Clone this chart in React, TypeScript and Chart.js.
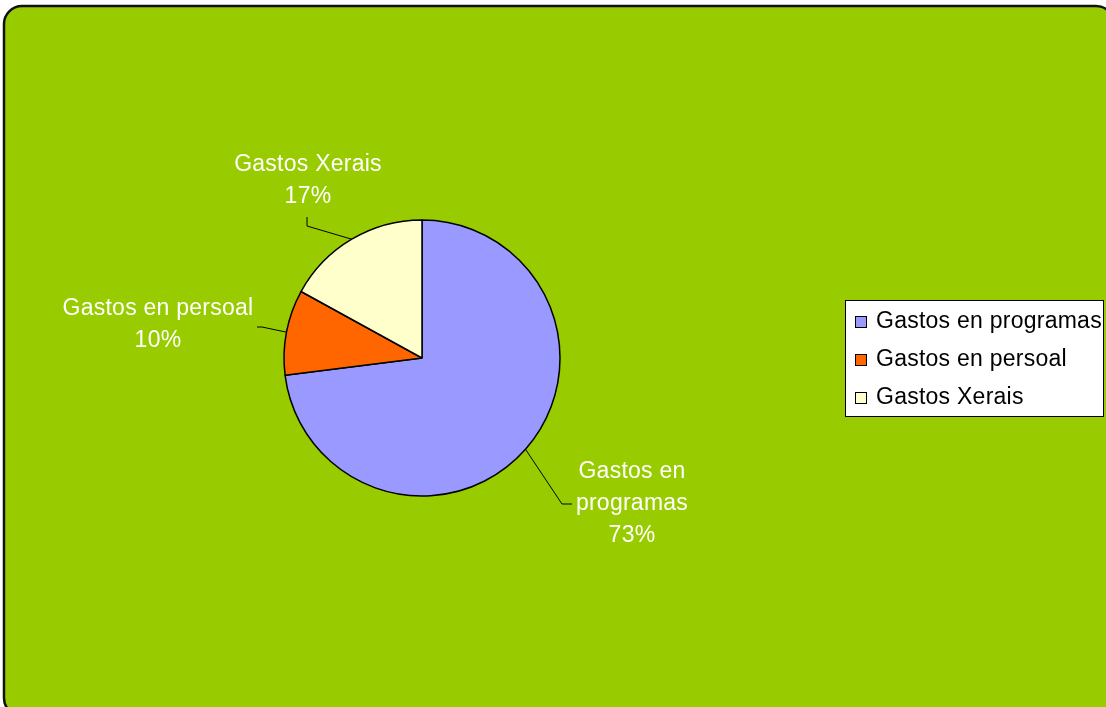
import { useEffect, useRef } from 'react';
import { Chart, registerables } from 'chart.js';

Chart.register(...registerables);

const categories = ['Gastos en programas', 'Gastos en persoal', 'Gastos Xerais'];
const labelLines = [['Gastos en', 'programas'], ['Gastos en persoal'], ['Gastos Xerais']];
const values = [73, 10, 17];
const colors = ['#9999FF', '#FF6600', '#FFFFCC'];

// label layout relative to pie center (pixels): elbow, end of leader, text block center
const labelLayout = [
  { elbow: [140, 146], end: [150, 146], text: [210, 146] },
  { elbow: [-160, -31], end: [-165, -31], text: [-264, -33] },
  { elbow: [-115, -132], end: [-115, -141], text: [-114, -177] },
];

const FONT = '23px "Liberation Sans", Arial, sans-serif';

const decorPlugin = {
  id: 'decor',
  beforeDraw(chart: any) {
    const ctx = chart.ctx as CanvasRenderingContext2D;
    ctx.save();
    ctx.fillStyle = '#ffffff';
    ctx.fillRect(0, 0, chart.width, chart.height);
    const x = 4, y = 6, w = 1110, h = 710, r = 18;
    ctx.beginPath();
    ctx.moveTo(x + r, y);
    ctx.lineTo(x + w - r, y);
    ctx.arcTo(x + w, y, x + w, y + r, r);
    ctx.lineTo(x + w, y + h - r);
    ctx.arcTo(x + w, y + h, x + w - r, y + h, r);
    ctx.lineTo(x + r, y + h);
    ctx.arcTo(x, y + h, x, y + h - r, r);
    ctx.lineTo(x, y + r);
    ctx.arcTo(x, y, x + r, y, r);
    ctx.closePath();
    ctx.fillStyle = '#99CC00';
    ctx.fill();
    ctx.lineWidth = 2.5;
    ctx.strokeStyle = '#111111';
    ctx.stroke();
    ctx.restore();
  },
  afterDraw(chart: any) {
    const ctx = chart.ctx as CanvasRenderingContext2D;
    const meta = chart.getDatasetMeta(0);
    const total = values.reduce((a, b) => a + b, 0);
    ctx.save();
    (ctx as any).letterSpacing = '0.25px';
    meta.data.forEach((arc: any, i: number) => {
      const p = arc.getProps(['x', 'y', 'startAngle', 'endAngle', 'outerRadius'], true);
      const mid = (p.startAngle + p.endAngle) / 2;
      const sx = p.x + Math.cos(mid) * p.outerRadius;
      const sy = p.y + Math.sin(mid) * p.outerRadius;
      const L = labelLayout[i];
      ctx.beginPath();
      ctx.moveTo(sx, sy);
      ctx.lineTo(p.x + L.elbow[0], p.y + L.elbow[1]);
      ctx.lineTo(p.x + L.end[0], p.y + L.end[1]);
      ctx.strokeStyle = '#000000';
      ctx.lineWidth = 1;
      ctx.stroke();
      const lines = [...labelLines[i], Math.round((values[i] / total) * 100) + '%'];
      const lh = 32;
      const tx = p.x + L.text[0];
      const ty0 = p.y + L.text[1] - ((lines.length - 1) * lh) / 2;
      ctx.fillStyle = '#ffffff';
      ctx.font = FONT;
      ctx.textAlign = 'center';
      ctx.textBaseline = 'middle';
      lines.forEach((t, k) => ctx.fillText(t, tx, ty0 + k * lh));
    });
    // legend
    const lx = 845, ly = 300, lw = 258, lhgt = 116;
    ctx.fillStyle = '#ffffff';
    ctx.fillRect(lx, ly, lw, lhgt);
    ctx.strokeStyle = '#000000';
    ctx.lineWidth = 1;
    ctx.strokeRect(lx + 0.5, ly + 0.5, lw, lhgt);
    categories.forEach((c, i) => {
      const cy = 321 + i * 38;
      ctx.fillStyle = colors[i];
      ctx.fillRect(855, cy - 5, 11, 11);
      ctx.strokeStyle = '#000000';
      ctx.strokeRect(855.5, cy - 4.5, 11, 11);
      ctx.fillStyle = '#000000';
      ctx.font = FONT;
      ctx.textAlign = 'left';
      ctx.textBaseline = 'middle';
      ctx.fillText(c, 876, cy + 1);
    });
    ctx.restore();
  },
};

export default function App() {
  const ref = useRef<HTMLCanvasElement>(null);
  useEffect(() => {
    if (!ref.current) return;
    const chart = new Chart(ref.current, {
      type: 'pie',
      data: {
        labels: categories,
        datasets: [
          {
            data: values,
            backgroundColor: colors,
            borderColor: '#000000',
            borderWidth: 1.5,
          },
        ],
      },
      options: {
        animation: false,
        responsive: false,
        devicePixelRatio: 1,
        radius: 138,
        layout: { padding: { left: 283, right: 545, top: 219, bottom: 210 } },
        plugins: { legend: { display: false }, tooltip: { enabled: false } },
      },
      plugins: [decorPlugin],
    });
    return () => chart.destroy();
  }, []);
  return (
    <div style={{ position: 'fixed', left: 0, top: 0, width: 1106, height: 707 }}>
      <canvas ref={ref} width={1106} height={707} style={{ display: 'block' }} />
    </div>
  );
}
